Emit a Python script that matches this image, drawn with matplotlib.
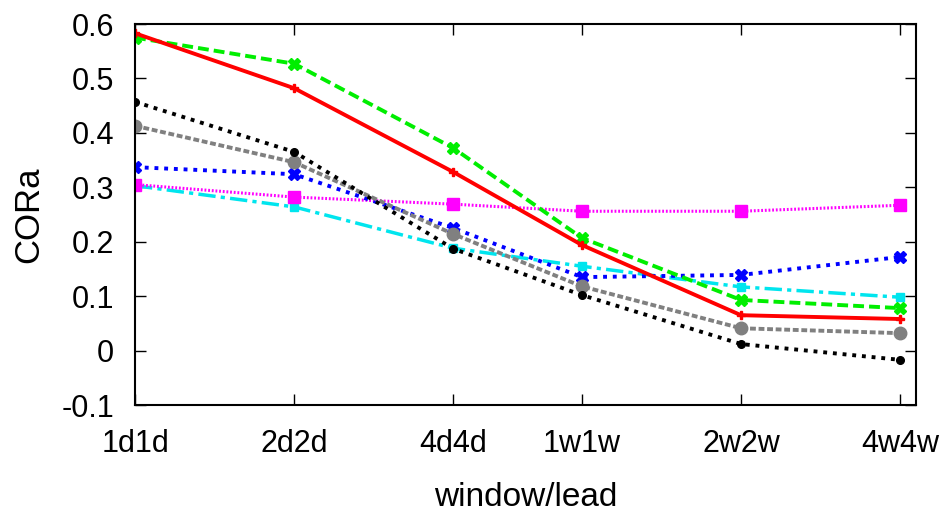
import matplotlib
matplotlib.use("Agg")
import matplotlib.pyplot as plt
from matplotlib.ticker import FixedLocator, NullLocator

plt.rcParams['font.family'] = ['Liberation Sans', 'DejaVu Sans']

days = [1, 2, 4, 7, 14, 28]
xlabels = ['1d1d', '2d2d', '4d4d', '1w1w', '2w2w', '4w4w']

red = [0.583, 0.482, 0.328, 0.194, 0.065, 0.058]
green = [0.575, 0.527, 0.372, 0.207, 0.093, 0.078]
black = [0.457, 0.365, 0.187, 0.102, 0.012, -0.017]
gray = [0.413, 0.346, 0.214, 0.118, 0.041, 0.032]
blue = [0.337, 0.324, 0.225, 0.135, 0.139, 0.172]
magenta = [0.305, 0.282, 0.269, 0.256, 0.256, 0.267]
cyan = [0.303, 0.264, 0.188, 0.155, 0.117, 0.098]

fig = plt.figure(figsize=(9.47, 5.13), dpi=100)
ax = fig.add_axes([0.1426, 0.2105, 0.8247, 0.7427])

ax.plot(days, cyan, color='#00e5ee', lw=2.5, linestyle=(0, (5, 1.5, 1.2, 1.5)), marker='s', ms=6)
ax.plot(days, magenta, color='#ff00ff', lw=2.2, linestyle=(0, (0.6, 0.6)), marker='s', ms=9)
ax.plot(days, blue, color='#0000ff', lw=2.8, linestyle=(0, (1.0, 1.5)), marker='X', ms=8)
ax.plot(days, gray, color='#808080', lw=2.8, linestyle=(0, (1.5, 0.7)), marker='o', ms=9)
ax.plot(days, black, color='black', lw=2.8, linestyle=(0, (1.0, 1.5)), marker='o', ms=5.5)
ax.plot(days, green, color='#00ee00', lw=2.8, linestyle=(0, (2.8, 1.3)), marker='X', ms=8)
ax.plot(days, red, color='red', lw=2.8, linestyle='-', marker='P', ms=6)

ax.set_xscale('log')
ax.set_xlim(1, 30)
ax.set_ylim(-0.1, 0.6)
ax.xaxis.set_major_locator(FixedLocator(days))
ax.xaxis.set_minor_locator(NullLocator())
ax.set_xticklabels(xlabels)
ax.set_yticks([-0.1, 0, 0.1, 0.2, 0.3, 0.4, 0.5, 0.6])
ax.set_yticklabels(['-0.1', '0', '0.1', '0.2', '0.3', '0.4', '0.5', '0.6'])
ax.tick_params(direction='in', top=True, right=True, length=8, width=1, labelsize=22)
ax.tick_params(axis='y', pad=15)
ax.tick_params(axis='x', pad=17)
for s in ax.spines.values():
    s.set_linewidth(1.5)

ax.set_xlabel('window/lead', fontsize=24, labelpad=17)
ax.set_ylabel('CORa', fontsize=25, labelpad=12)

fig.savefig('out.png', dpi=100)
